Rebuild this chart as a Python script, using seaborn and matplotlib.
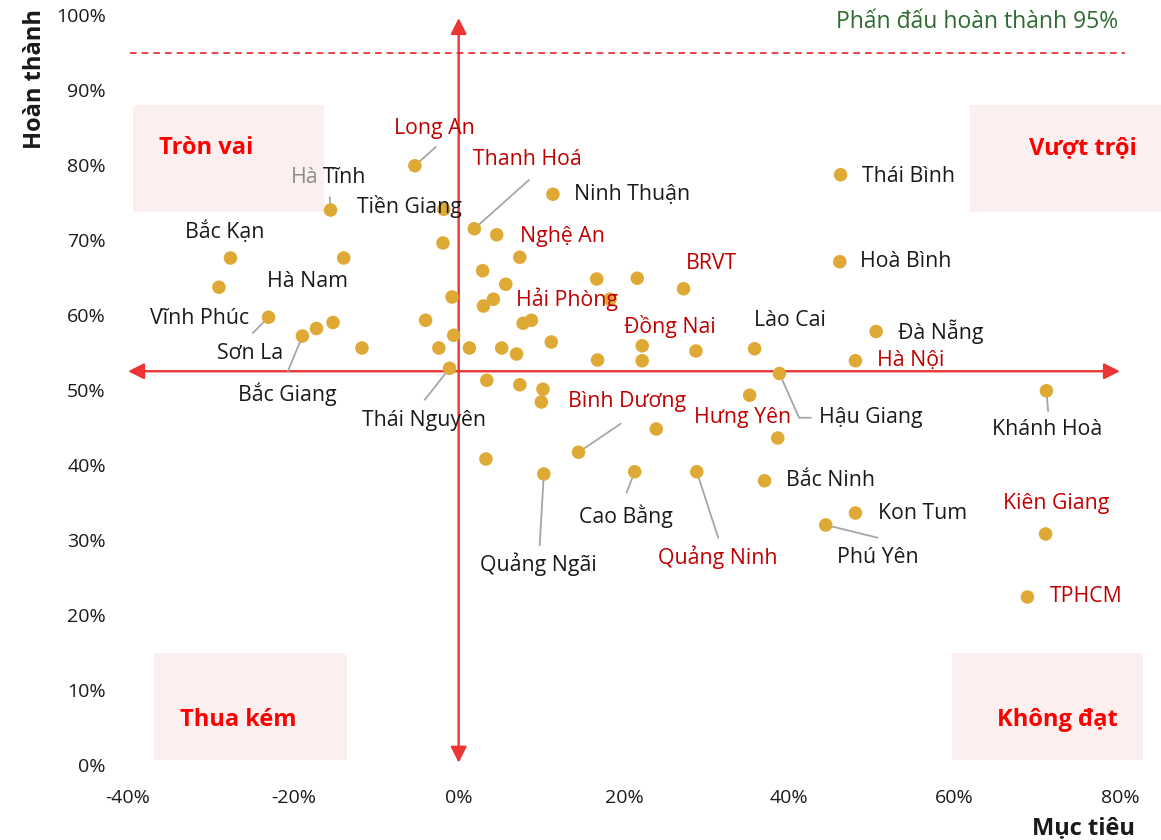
import matplotlib
matplotlib.use("Agg")
import matplotlib.pyplot as plt
import seaborn as sns
import pandas as pd
from matplotlib.patches import Rectangle
from matplotlib.ticker import FuncFormatter

# Dữ liệu: tỉnh có nhãn
names = ["Long An", "Hà Tĩnh", "Tiền Giang", "Bắc Kạn", "Hà Nam", "Vĩnh Phúc", "Sơn La",
         "Bắc Giang", "Thái Nguyên", "Thanh Hoá", "Ninh Thuận", "Nghệ An", "BRVT", "Hải Phòng",
         "Đồng Nai", "Lào Cai", "Đà Nẵng", "Hà Nội", "Hậu Giang", "Bình Dương", "Hưng Yên",
         "Bắc Ninh", "Cao Bằng", "Quảng Ninh", "Quảng Ngãi", "Kon Tum", "Phú Yên", "Thái Bình",
         "Hoà Bình", "Khánh Hoà", "Kiên Giang", "TPHCM"]
muc_tieu = [-5.3, -15.5, -1.8, -27.6, -13.9, -29.0, -23.0,
            -18.9, -1.1, 1.9, 11.4, 7.4, 27.2, 18.3,
            22.2, 35.8, 50.5, 48.0, 38.8, 14.5, 38.6,
            37.0, 21.3, 28.8, 10.3, 48.0, 44.4, 46.2,
            46.1, 71.1, 71.0, 68.8]
hoan_thanh = [79.9, 74.0, 74.1, 67.6, 67.6, 63.7, 59.7,
              57.2, 52.9, 71.5, 76.1, 67.7, 63.5, 62.1,
              55.9, 55.5, 57.8, 53.9, 52.2, 41.7, 43.6,
              37.9, 39.1, 39.1, 38.8, 33.6, 32.0, 78.7,
              67.1, 49.9, 30.8, 22.4]
red_names = ["Long An", "Thanh Hoá", "Nghệ An", "BRVT", "Hải Phòng", "Đồng Nai", "Hà Nội",
             "Bình Dương", "Hưng Yên", "Quảng Ninh", "Kiên Giang", "TPHCM"]

# tỉnh không ghi nhãn
other_x = [-17.2, -15.2, -11.7, -4.0, -1.9, -0.8, -0.6, -2.4, 1.3, 3.4, 4.6, 2.9, 5.7, 4.2,
           3.0, 5.2, 16.7, 21.6, 8.8, 7.8, 7.0, 11.2, 22.2, 16.8, 28.7, 7.4, 10.2, 10.0,
           23.9, 35.2, 3.3]
other_y = [58.2, 59.0, 55.6, 59.3, 69.6, 62.4, 57.3, 55.6, 55.6, 51.3, 70.7, 65.9, 64.1, 62.1,
           61.2, 55.6, 64.8, 64.9, 59.3, 58.9, 54.8, 56.4, 53.9, 54.0, 55.2, 50.7, 50.1, 48.4,
           44.8, 49.3, 40.8]

target_line = 95
x_cross = 0
y_cross = 52.5

# vị trí nhãn (data coords) và điểm bắt đầu đường dẫn
label_pos = {
    "Long An": (-2.9, 84.9), "Tiền Giang": (-5.9, 74.5), "Bắc Kạn": (-28.3, 71.1),
    "Hà Nam": (-18.3, 64.5), "Vĩnh Phúc": (-31.3, 59.6), "Sơn La": (-25.2, 54.9),
    "Bắc Giang": (-20.7, 49.5), "Thái Nguyên": (-4.2, 45.9), "Thanh Hoá": (8.3, 80.7),
    "Ninh Thuận": (21.0, 76.0), "Nghệ An": (12.6, 70.5), "BRVT": (30.6, 66.9),
    "Hải Phòng": (13.1, 62.1), "Đồng Nai": (25.6, 58.5), "Lào Cai": (40.1, 59.3),
    "Đà Nẵng": (58.3, 57.7), "Hà Nội": (54.7, 53.9), "Hậu Giang": (49.8, 46.3),
    "Bình Dương": (20.4, 48.4), "Hưng Yên": (34.3, 46.3), "Bắc Ninh": (45.0, 37.9),
    "Cao Bằng": (20.2, 33.2), "Quảng Ninh": (31.4, 27.7), "Quảng Ngãi": (9.7, 26.7),
    "Kon Tum": (56.1, 33.5), "Phú Yên": (50.7, 27.7), "Thái Bình": (54.4, 78.5),
    "Hoà Bình": (54.1, 67.1), "Khánh Hoà": (71.2, 44.7), "Kiên Giang": (72.3, 34.8),
    "TPHCM": (75.9, 22.4),
}
leaders = {
    "Long An": (-2.78, 82.4), "Hà Tĩnh": (-15.6, 75.7), "Sơn La": (-24.9, 57.6),
    "Bắc Giang": (-20.7, 52.4), "Thái Nguyên": (-4.1, 48.7), "Thanh Hoá": (8.5, 78.0),
    "Bình Dương": (19.6, 45.5), "Cao Bằng": (20.3, 36.3), "Quảng Ninh": (31.4, 30.3),
    "Quảng Ngãi": (9.8, 29.3), "Phú Yên": (50.7, 30.3), "Khánh Hoà": (71.3, 47.2),
}

sns.set_theme(style="white")
plt.rcParams["font.family"] = ["Open Sans", "DejaVu Sans"]

fig = plt.figure(figsize=(11.61, 8.4), dpi=100)
ax = fig.add_axes([128 / 1161, 1 - 765 / 840, (1120 - 128) / 1161, 750 / 840])

df = pd.DataFrame({"x": muc_tieu + other_x, "y": hoan_thanh + other_y})
sns.scatterplot(data=df, x="x", y="y", ax=ax, s=95, color="#DFA935", edgecolor="none", zorder=4)

ax.set_xlim(-40, 80)
ax.set_ylim(0, 100)
ax.set_xticks(range(-40, 81, 20))
ax.set_yticks(range(0, 101, 10))
ax.xaxis.set_major_formatter(FuncFormatter(lambda v, p: f"{v:.0f}%"))
ax.yaxis.set_major_formatter(FuncFormatter(lambda v, p: f"{v:.0f}%"))
ax.tick_params(axis="both", length=0, labelsize=14, colors="#1a1a1a")
ax.tick_params(axis="x", pad=17)
ax.tick_params(axis="y", pad=16)
ax.set_xlabel("")
ax.set_ylabel("")
for s in ax.spines.values():
    s.set_visible(False)

# ô góc phần tư
boxes = [((-39.4, 73.7), 23.1, 14.3), ((61.9, 73.7), 23.2, 14.3),
         ((-36.9, 0.7), 23.4, 14.3), ((59.7, 0.7), 23.1, 14.3)]
for (bx, by), bw, bh in boxes:
    ax.add_patch(Rectangle((bx, by), bw, bh, facecolor="#FBEFEF", edgecolor="none",
                           zorder=0, clip_on=False))
quad = [("Tròn vai", -30.6, 82.3), ("Vượt trội", 75.5, 82.3),
        ("Thua kém", -26.7, 6.0), ("Không đạt", 72.4, 6.0)]
for t, qx, qy in quad:
    ax.text(qx, qy, t, color="#FF0000", fontsize=17, fontweight="bold",
            ha="center", va="center", zorder=5, clip_on=False)

# trục mũi tên
arrow_kw = dict(arrowstyle="<|-|>", color="#EE3535", lw=1.7, mutation_scale=24,
                shrinkA=0, shrinkB=0)
ax.annotate("", xy=(80, y_cross), xytext=(-40, y_cross), arrowprops=arrow_kw,
            zorder=2, annotation_clip=False)
ax.annotate("", xy=(x_cross, 99.6), xytext=(x_cross, 0.3), arrowprops=arrow_kw,
            zorder=2, annotation_clip=False)

ax.plot([-39.7, 80.6], [target_line, target_line], color="#E8262A", lw=1.2,
        ls=(0, (4, 3)), zorder=2, clip_on=False)
ax.text(79.8, 99.1, "Phấn đấu hoàn thành 95%", color="#2F6A31", fontsize=16.5,
        ha="right", va="center")

# nhãn tỉnh
line_kw = dict(arrowstyle="-", color="#A6A6A6", lw=1.3, shrinkA=0, shrinkB=0)
for n, px, py in zip(names, muc_tieu, hoan_thanh):
    if n in leaders:
        ax.annotate("", xy=(px, py), xytext=leaders[n], arrowprops=line_kw, zorder=3)
    if n == "Hà Tĩnh":
        ax.text(-16.93, 78.27, "Hà", color="#8C8C8C", fontsize=15.3, ha="right", va="center")
        ax.text(-16.44, 78.27, "Tĩnh", color="#1a1a1a", fontsize=15.3, ha="left", va="center")
        continue
    c = "#C00000" if n in red_names else "#1a1a1a"
    lx, ly = label_pos[n]
    ax.text(lx, ly, n, color=c, fontsize=15.3, ha="center", va="center", zorder=6)

# Hậu Giang: đường gấp khúc
ax.annotate("", xy=(38.8, 52.2), xytext=(42.6, 46.3),
            arrowprops=dict(arrowstyle="-", color="#A6A6A6", lw=1.3, shrinkA=0, shrinkB=0,
                            connectionstyle="angle,angleA=0,angleB=-66,rad=0"), zorder=3)

fig.text(35 / 1161, 1 - 79 / 840, "Hoàn thành", rotation=90, fontsize=17,
         fontweight="bold", ha="center", va="center", color="#1a1a1a")
fig.text(1083 / 1161, 1 - 828 / 840, "Mục tiêu", fontsize=17, fontweight="bold",
         ha="center", va="center", color="#1a1a1a")

fig.savefig("out.png", dpi=100)
